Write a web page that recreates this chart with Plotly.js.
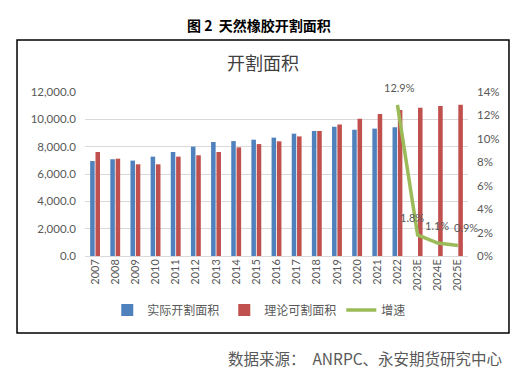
<!DOCTYPE html>
<html>
<head>
<meta charset="utf-8">
<script src="https://cdn.plot.ly/plotly-3.0.1.min.js"></script>
<style>
  html, body { margin: 0; padding: 0; background: #ffffff; }
  #chart { width: 521px; height: 376px; }
</style>
</head>
<body>
<div id="chart"></div>
<script>
const years = ['2007','2008','2009','2010','2011','2012','2013','2014','2015','2016','2017','2018','2019','2020','2021','2022','2023E','2024E','2025E'];
const actualArea = [6950, 7080, 6980, 7270, 7610, 8000, 8340, 8410, 8510, 8660, 8950, 9150, 9460, 9240, 9320, 9420, null, null, null];
const theoreticalArea = [7610, 7120, 6710, 6710, 7270, 7370, 7610, 7950, 8190, 8390, 8750, 9150, 9630, 10050, 10390, 10680, 10850, 10980, 11070];
const growthYears = ['2022','2023E','2024E','2025E'];
const growthRate = [12.9, 1.8, 1.1, 0.9];
const growthLabels = ['12.9%','1.8%','1.1%','0.9%'];
const seriesNames = ['实际开割面积','理论可割面积','增速'];

const numFont = 'Lato, "Liberation Sans", sans-serif';
const cjkFont = '"Noto Sans CJK SC", sans-serif';
const gray = '#595959';

const traces = [
  { type: 'bar', name: seriesNames[0], x: years, y: actualArea,
    marker: { color: '#4F81BD' }, hoverinfo: 'skip' },
  { type: 'bar', name: seriesNames[1], x: years, y: theoreticalArea,
    marker: { color: '#C0504D' }, hoverinfo: 'skip' },
  { type: 'scatter', mode: 'lines', name: seriesNames[2], x: growthYears, y: growthRate,
    yaxis: 'y2', line: { color: '#9BBB59', width: 3.5 }, hoverinfo: 'skip' }
];

const labelXShift = [2, -6, -1, 8];
const labelAnnotations = growthYears.map((yr, i) => ({
  xref: 'x', yref: 'y2', x: years.indexOf(yr), y: growthRate[i], text: growthLabels[i],
  showarrow: false, yanchor: 'bottom', xanchor: 'center', yshift: 9, xshift: labelXShift[i],
  font: { family: numFont, size: 11, color: gray }
}));

const layout = {
  width: 521, height: 376,
  margin: { l: 85, r: 53, t: 92, b: 120 },
  paper_bgcolor: '#ffffff', plot_bgcolor: '#ffffff',
  barmode: 'group', bargap: 0.47, bargroupgap: 0.15,
  showlegend: true,
  legend: { orientation: 'h', x: 0.455, xanchor: 'center', y: -0.33, yanchor: 'middle',
    font: { family: cjkFont, size: 12, color: gray }, itemwidth: 30, tracegroupgap: 0 },
  xaxis: { type: 'category', categoryorder: 'array', categoryarray: years, range: [-0.5, years.length - 0.5],
    tickangle: -90, showgrid: false, zeroline: false, showline: false,
    ticks: '', tickfont: { family: numFont, size: 11, color: gray } },
  yaxis: { range: [0, 12000], dtick: 2000, tickformat: ',.1f', showgrid: true, gridcolor: '#D9D9D9',
    gridwidth: 1, zeroline: true, zerolinecolor: '#D9D9D9', showline: false, ticks: '',
    tickfont: { family: numFont, size: 11.5, color: gray }, ticklabelstandoff: 8 },
  yaxis2: { overlaying: 'y', side: 'right', range: [0, 14], dtick: 2, ticksuffix: '%',
    showgrid: false, zeroline: false, showline: false, ticks: '',
    tickfont: { family: numFont, size: 11.5, color: gray }, ticklabelstandoff: 8 },
  shapes: [
    { type: 'rect', xref: 'paper', yref: 'paper', x0: -0.1775, x1: 1.107, y0: -0.4695, y1: 1.317,
      line: { color: '#000000', width: 1.5 }, fillcolor: 'rgba(0,0,0,0)', layer: 'below' }
  ],
  annotations: labelAnnotations.concat([
    { xref: 'paper', yref: 'paper', x: 0.455, y: 1.41, xanchor: 'center', yanchor: 'middle', showarrow: false,
      text: '<b>图 2  天然橡胶开割面积</b>', font: { family: cjkFont, size: 14, color: '#000000' } },
    { xref: 'paper', yref: 'paper', x: 0.465, y: 1.18, xanchor: 'center', yanchor: 'middle', showarrow: false,
      text: '开割面积', font: { family: cjkFont, size: 18, color: '#404040' } },
    { xref: 'paper', yref: 'paper', x: 1.093, y: -0.62, xanchor: 'right', yanchor: 'middle', showarrow: false,
      text: '数据来源：  ANRPC、永安期货研究中心', font: { family: cjkFont, size: 15.5, color: gray } }
  ])
};

Plotly.newPlot('chart', traces, layout, { displayModeBar: false, staticPlot: true });
</script>
</body>
</html>
